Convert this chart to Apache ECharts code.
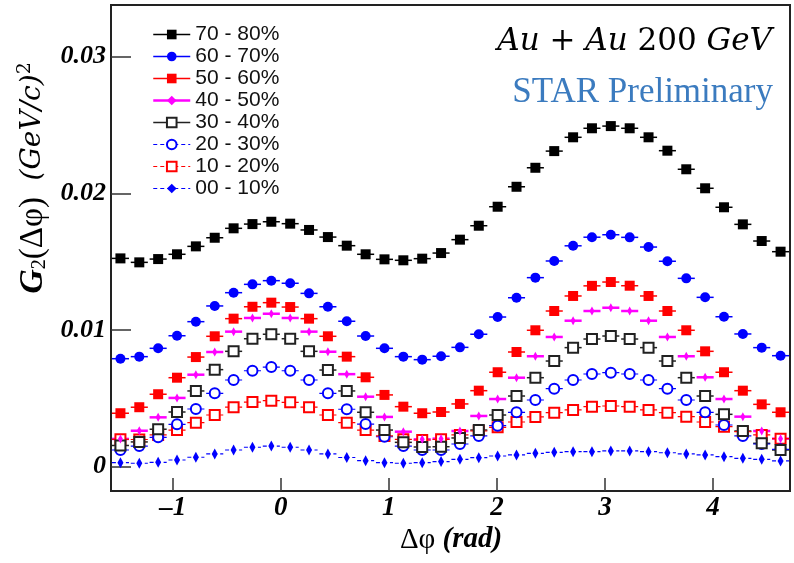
<!DOCTYPE html>
<html>
<head>
<meta charset="utf-8">
<title>G2 Au+Au 200 GeV</title>
<script src="https://cdn.jsdelivr.net/npm/echarts@6/dist/echarts.min.js"></script>
<style>
  html, body { margin: 0; padding: 0; background: #fff; }
  #chart { width: 794px; height: 563px; }
</style>
</head>
<body>
<div id="chart"></div>
<script>
// bin centres (rad), 36 bins from -pi/2 to 3pi/2
var dphi = [-1.4835, -1.3090, -1.1345, -0.9599, -0.7854, -0.6109, -0.4363, -0.2618, -0.0873,
  0.0873, 0.2618, 0.4363, 0.6109, 0.7854, 0.9599, 1.1345, 1.3090, 1.4835,
  1.6581, 1.8326, 2.0071, 2.1817, 2.3562, 2.5307, 2.7053, 2.8798, 3.0543,
  3.2289, 3.4034, 3.5779, 3.7525, 3.9270, 4.1015, 4.2761, 4.4506, 4.6251];

var c7080 = [0.01524, 0.01495, 0.01519, 0.01554, 0.01612, 0.01675, 0.01744, 0.01775, 0.01792,
  0.01778, 0.01732, 0.01680, 0.01617, 0.01554, 0.01517, 0.01510, 0.01522, 0.01563,
  0.01661, 0.01763, 0.01902, 0.02048, 0.02187, 0.02309, 0.02410, 0.02476, 0.02492,
  0.02476, 0.02410, 0.02312, 0.02176, 0.02037, 0.01898, 0.01773, 0.01651, 0.01573];
var c6070 = [0.00790, 0.00805, 0.00866, 0.00958, 0.01061, 0.01176, 0.01273, 0.01334, 0.01361,
  0.01342, 0.01268, 0.01170, 0.01064, 0.00956, 0.00866, 0.00805, 0.00783, 0.00808,
  0.00873, 0.00969, 0.01095, 0.01236, 0.01383, 0.01505, 0.01616, 0.01679, 0.01697,
  0.01678, 0.01607, 0.01503, 0.01378, 0.01239, 0.01097, 0.00971, 0.00871, 0.00812];
var c5060 = [0.00391, 0.00435, 0.00530, 0.00651, 0.00802, 0.00954, 0.01083, 0.01170, 0.01200,
  0.01168, 0.01083, 0.00954, 0.00805, 0.00654, 0.00525, 0.00439, 0.00391, 0.00400,
  0.00459, 0.00556, 0.00691, 0.00839, 0.00998, 0.01139, 0.01249, 0.01323, 0.01351,
  0.01324, 0.01249, 0.01139, 0.00998, 0.00844, 0.00691, 0.00556, 0.00456, 0.00398];
var c4050 = [0.00203, 0.00263, 0.00361, 0.00503, 0.00673, 0.00839, 0.00988, 0.01088, 0.01119,
  0.01088, 0.00988, 0.00841, 0.00677, 0.00512, 0.00364, 0.00256, 0.00200, 0.00205,
  0.00261, 0.00371, 0.00495, 0.00651, 0.00808, 0.00949, 0.01068, 0.01139, 0.01163,
  0.01139, 0.01068, 0.00949, 0.00808, 0.00654, 0.00495, 0.00366, 0.00261, 0.00205];
var c3040 = [0.00155, 0.00181, 0.00274, 0.00400, 0.00554, 0.00710, 0.00844, 0.00936, 0.00969,
  0.00936, 0.00844, 0.00707, 0.00554, 0.00398, 0.00268, 0.00178, 0.00144, 0.00146,
  0.00210, 0.00268, 0.00378, 0.00517, 0.00651, 0.00773, 0.00871, 0.00934, 0.00956,
  0.00934, 0.00871, 0.00773, 0.00651, 0.00517, 0.00383, 0.00261, 0.00171, 0.00122];
var c2030 = [0.00122, 0.00151, 0.00215, 0.00310, 0.00422, 0.00537, 0.00634, 0.00702, 0.00729,
  0.00702, 0.00634, 0.00537, 0.00420, 0.00312, 0.00219, 0.00151, 0.00122, 0.00122,
  0.00166, 0.00225, 0.00300, 0.00398, 0.00488, 0.00571, 0.00634, 0.00678, 0.00688,
  0.00678, 0.00634, 0.00571, 0.00488, 0.00398, 0.00305, 0.00225, 0.00166, 0.00127];
var c1020 = [0.00200, 0.00199, 0.00232, 0.00268, 0.00322, 0.00378, 0.00435, 0.00473, 0.00483,
  0.00471, 0.00435, 0.00378, 0.00322, 0.00268, 0.00225, 0.00200, 0.00195, 0.00200,
  0.00232, 0.00261, 0.00288, 0.00327, 0.00364, 0.00395, 0.00415, 0.00439, 0.00444,
  0.00439, 0.00415, 0.00395, 0.00366, 0.00327, 0.00293, 0.00256, 0.00232, 0.00205];
var c0010 = [0.00029, 0.00025, 0.00032, 0.00049, 0.00069, 0.00093, 0.00122, 0.00142, 0.00151,
  0.00142, 0.00122, 0.00093, 0.00067, 0.00044, 0.00029, 0.00025, 0.00029, 0.00037,
  0.00054, 0.00066, 0.00078, 0.00086, 0.00098, 0.00105, 0.00110, 0.00110, 0.00115,
  0.00115, 0.00110, 0.00102, 0.00093, 0.00086, 0.00073, 0.00061, 0.00054, 0.00042];

var names = ['70 - 80%', '60 - 70%', '50 - 60%', '40 - 50%', '30 - 40%', '20 - 30%', '10 - 20%', '00 - 10%'];
var values = [c7080, c6070, c5060, c4050, c3040, c2030, c1020, c0010];

var xTicks = [-1, 0, 1, 2, 3, 4];
var xTickLabels = ['\u20131', '0', '1', '2', '3', '4'];
var yTicks = [0, 0.01, 0.02, 0.03];
var yTickLabels = ['0', '0.01', '0.02', '0.03'];

// look of each centrality class
var looks = [
  { color: '#000000', symbol: 'rect', size: 10, dash: false, lw: 1.5 },
  { color: '#0000ff', symbol: 'circle', size: 10, dash: false, lw: 1.5 },
  { color: '#ff0000', symbol: 'rect', size: 10, dash: false, lw: 1.5 },
  { color: '#ff00ff', symbol: 'diamond', size: [5, 9], dash: false, lw: 2.5 },
  { color: '#222222', symbol: 'emptyRect', size: 10, dash: false, lw: 1.5 },
  { color: '#0000ff', symbol: 'emptyCircle', size: 10, dash: true, lw: 1.2 },
  { color: '#ff0000', symbol: 'emptyRect', size: 10, dash: true, lw: 1.2 },
  { color: '#0000ff', symbol: 'diamond', size: [6, 11], dash: true, lw: 1.2 }
];

var halfBin = 0.079; // horizontal error bar half-length (rad)

function pairs(ys) {
  return ys.map(function (y, i) { return [dphi[i], y]; });
}

function labelOf(ticks, labels) {
  return function (v) {
    for (var i = 0; i < ticks.length; i++) {
      if (Math.abs(ticks[i] - v) < 1e-9) return labels[i];
    }
    return '';
  };
}

var series = [];
// error bars first so markers sit on top
values.forEach(function (ys, k) {
  var lk = looks[k];
  series.push({
    name: names[k] + ' err',
    type: 'custom',
    z: 2,
    data: pairs(ys),
    renderItem: function (params, api) {
      var x = api.value(0), y = api.value(1);
      var a = api.coord([x - halfBin, y]);
      var b = api.coord([x + halfBin, y]);
      return {
        type: 'line',
        shape: { x1: a[0], y1: a[1], x2: b[0], y2: b[1] },
        style: { stroke: lk.color, lineWidth: lk.lw, lineDash: lk.dash ? [4, 3] : null }
      };
    }
  });
});
values.forEach(function (ys, k) {
  var lk = looks[k];
  series.push({
    name: names[k],
    type: 'line',
    z: 3 + (values.length - k) * 0.01,
    data: pairs(ys),
    symbol: lk.symbol,
    symbolSize: lk.size,
    showSymbol: true,
    lineStyle: { opacity: 0 },
    itemStyle: { color: lk.color, borderWidth: 1.4 }
  });
});

var legendData = names.map(function (n, k) {
  var lk = looks[k];
  return {
    name: n,
    lineStyle: { opacity: 1, color: lk.color, width: lk.lw, type: lk.dash ? [4, 3] : 'solid' }
  };
});

var chart = echarts.init(document.getElementById('chart'));
chart.setOption({
  animation: false,
  backgroundColor: '#fff',
  grid: { left: 111, right: 4, top: 5, bottom: 72, show: true, borderColor: '#222', borderWidth: 2 },
  legend: {
    data: legendData,
    orient: 'vertical',
    left: 147,
    top: 19,
    itemWidth: 37,
    itemHeight: 12,
    itemGap: 1,
    selectedMode: false,
    textStyle: { fontFamily: 'Liberation Sans', fontSize: 21, lineHeight: 21, color: '#111', padding: [0, 0, 0, 0] }
  },
  xAxis: {
    type: 'value',
    min: -Math.PI / 2,
    max: 3 * Math.PI / 2,
    splitLine: { show: false },
    axisLine: { show: true, onZero: false, lineStyle: { color: '#222', width: 2 } },
    axisTick: { inside: true, length: 13, customValues: xTicks, lineStyle: { color: '#333', width: 1.5 } },
    axisLabel: {
      customValues: xTicks,
      formatter: labelOf(xTicks, xTickLabels),
      margin: 4,
      fontFamily: 'Liberation Serif',
      fontStyle: 'italic',
      fontWeight: 'bold',
      fontSize: 27,
      color: '#000'
    }
  },
  yAxis: {
    type: 'value',
    min: -0.00178,
    max: 0.03378,
    splitLine: { show: false },
    axisLine: { show: true, onZero: false, lineStyle: { color: '#222', width: 2 } },
    axisTick: { inside: true, length: 20, customValues: yTicks, lineStyle: { color: '#333', width: 1.5 } },
    axisLabel: {
      customValues: yTicks,
      formatter: labelOf(yTicks, yTickLabels),
      margin: 5,
      fontFamily: 'Liberation Serif',
      fontStyle: 'italic',
      fontWeight: 'bold',
      fontSize: 26,
      color: '#000'
    }
  },
  graphic: [
    {
      type: 'text',
      x: 33, y: 178,
      rotation: Math.PI / 2,
      style: {
        text: '{g|G}{sub|2}{n|(\u0394\u03c6)  }{i|(GeV/c)}{sup|2}',
        align: 'center',
        verticalAlign: 'middle',
        fill: '#000',
        rich: {
          g: { fontFamily: 'Liberation Serif', fontStyle: 'italic', fontWeight: 'bold', fontSize: 34, fill: '#000' },
          sub: { fontFamily: 'Liberation Serif', fontSize: 20, verticalAlign: 'bottom', lineHeight: 8, fill: '#000' },
          n: { fontFamily: 'Liberation Serif', fontSize: 33, fill: '#000' },
          i: { fontFamily: 'DejaVu Serif', fontStyle: 'italic', fontSize: 28, fill: '#000' },
          sup: { fontFamily: 'DejaVu Serif', fontSize: 19, verticalAlign: 'top', lineHeight: 8, fill: '#000' }
        }
      }
    },
    {
      type: 'text',
      x: 451, y: 540,
      style: {
        text: '{n|\u0394\u03c6 }{r|(rad)}',
        align: 'center',
        verticalAlign: 'middle',
        rich: {
          n: { fontFamily: 'Liberation Serif', fontSize: 29, fill: '#000' },
          r: { fontFamily: 'Liberation Serif', fontStyle: 'italic', fontWeight: 'bold', fontSize: 29, fill: '#000' }
        }
      }
    },
    {
      type: 'text',
      right: 22, top: 26,
      style: {
        text: '{i|Au + Au }{n|200 }{i|GeV}',
        rich: {
          i: { fontFamily: 'DejaVu Serif', fontStyle: 'italic', fontSize: 31, fill: '#000' },
          n: { fontFamily: 'DejaVu Serif', fontSize: 31, fill: '#000' }
        }
      }
    },
    {
      type: 'text',
      right: 21, top: 75,
      style: {
        text: 'STAR Preliminary',
        fontFamily: 'Liberation Serif',
        fontSize: 35,
        fill: '#3b7bbf'
      }
    }
  ],
  series: series
});
</script>
</body>
</html>
